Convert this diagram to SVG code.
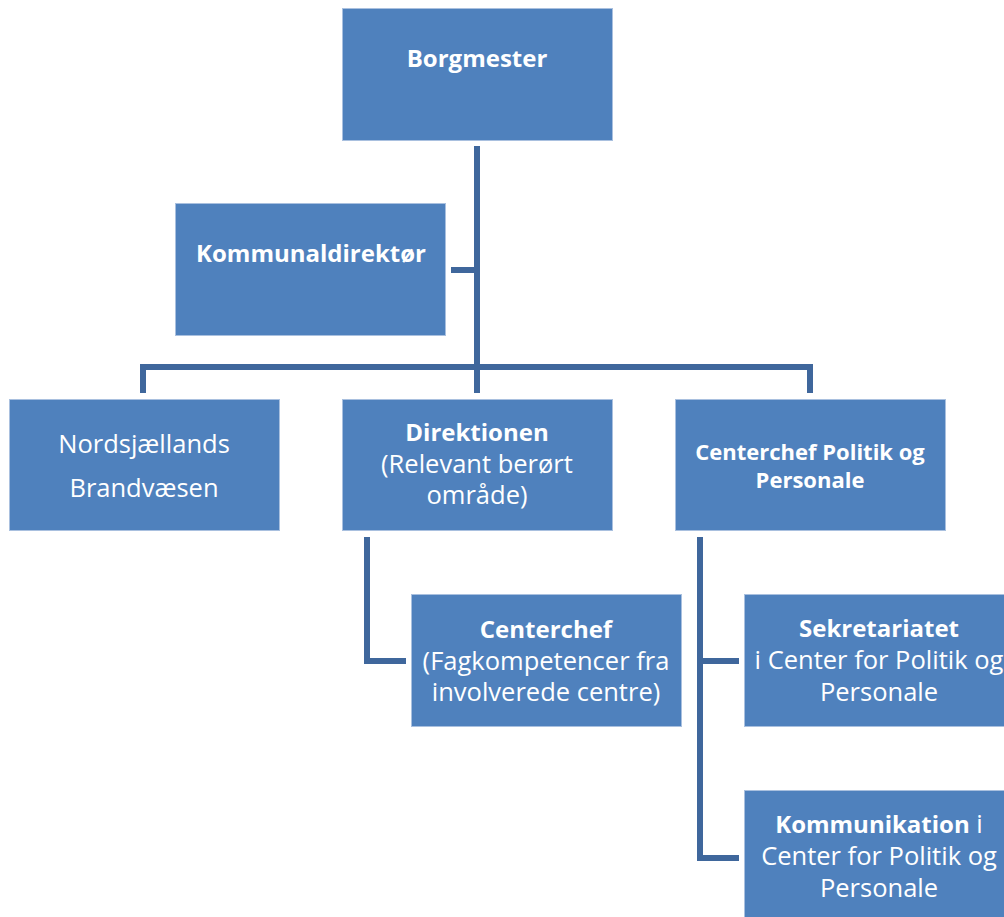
<svg xmlns="http://www.w3.org/2000/svg" width="1004" height="917" viewBox="0 0 1004 917">
<style>
.box{fill:#4F81BD;stroke:#A9C0DF;stroke-width:1}
.conn{fill:none;stroke:#3F679C;stroke-width:6;stroke-linecap:butt;stroke-linejoin:miter}
text{font-family:"Open Sans","Noto Sans","Liberation Sans",sans-serif;fill:#FFFFFF;text-anchor:middle;font-size:25.5px}
.b{font-weight:bold;font-size:24px}
.s{font-weight:bold;font-size:22px}
</style>
<rect width="1004" height="917" fill="#FFFFFF"/>
<g id="connectors">
<path class="conn" d="M477 146V393"/>
<path class="conn" d="M451 270H477"/>
<path class="conn" d="M143 393V367H810V393"/>
<path class="conn" d="M367 537V661H406"/>
<path class="conn" d="M700 537V858H739"/>
<path class="conn" d="M700 661H739"/>
</g>
<g id="borgmester">
<rect class="box" x="342.5" y="8.5" width="270" height="132"/>
<text class="b" x="477" y="67">Borgmester</text>
</g>
<g id="kommunaldirektor">
<rect class="box" x="175.5" y="203.5" width="270" height="132"/>
<text class="b" x="311" y="262">Kommunaldirektør</text>
</g>
<g id="brandvaesen">
<rect class="box" x="9.5" y="399.5" width="270" height="131"/>
<text x="144" y="453">Nordsjællands</text>
<text x="144" y="497">Brandvæsen</text>
</g>
<g id="direktionen">
<rect class="box" x="342.5" y="399.5" width="270" height="131"/>
<text class="b" x="477" y="441">Direktionen</text>
<text x="477" y="473">(Relevant berørt</text>
<text x="477" y="504">område)</text>
</g>
<g id="centerchef-politik">
<rect class="box" x="675.5" y="399.5" width="270" height="131"/>
<text class="s" x="810" y="460">Centerchef Politik og</text>
<text class="s" x="810" y="488">Personale</text>
</g>
<g id="centerchef">
<rect class="box" x="411.5" y="594.5" width="270" height="132"/>
<text class="b" x="546" y="638">Centerchef</text>
<text x="546" y="670">(Fagkompetencer fra</text>
<text x="546" y="701">involverede centre)</text>
</g>
<g id="sekretariatet">
<rect class="box" x="744.5" y="594.5" width="270" height="132"/>
<text class="b" x="879" y="637">Sekretariatet</text>
<text x="879" y="669">i Center for Politik og</text>
<text x="879" y="701">Personale</text>
</g>
<g id="kommunikation">
<rect class="box" x="744.5" y="790.5" width="270" height="132"/>
<text x="879" y="833"><tspan class="b">Kommunikation</tspan> i</text>
<text x="879" y="865">Center for Politik og</text>
<text x="879" y="897">Personale</text>
</g>
</svg>
